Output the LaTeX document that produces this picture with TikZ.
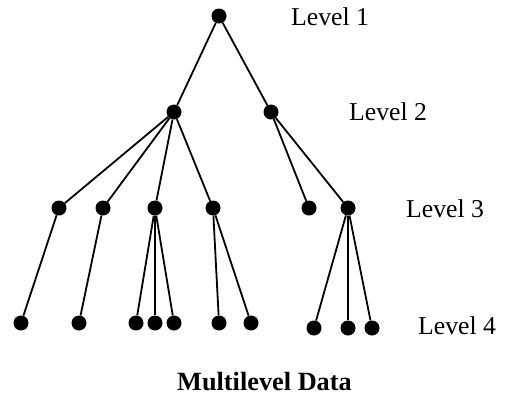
\documentclass[tikz,border=0pt]{standalone}
\usepackage{fontspec}
\setmainfont{Liberation Serif}
\begin{document}
\begin{tikzpicture}[x=1pt,y=-1pt,
  dot/.style={circle,fill=black,inner sep=0pt,minimum size=15pt},
  edge/.style={line width=1.8pt},
  lvl/.style={anchor=base west,inner sep=0pt,font=\fontsize{25.7}{30}\selectfont},
  ttl/.style={anchor=base,inner sep=0pt,font=\fontsize{26.3}{31}\selectfont\bfseries}]
\useasboundingbox (0,0) rectangle (511,394);
% nodes
\node[dot] (r) at (219,16) {};
\node[dot] (a) at (174,112) {};
\node[dot] (b) at (271,112) {};
\node[dot] (c1) at (59,208) {};
\node[dot] (c2) at (103,208) {};
\node[dot] (c3) at (155,208) {};
\node[dot] (c4) at (213,208) {};
\node[dot] (c5) at (309,208) {};
\node[dot] (c6) at (348,208) {};
\node[dot] (d1) at (21,323) {};
\node[dot] (d2) at (79,323) {};
\node[dot] (d3) at (136,323) {};
\node[dot] (d4) at (155,323) {};
\node[dot] (d5) at (174,323) {};
\node[dot] (d6) at (219,323) {};
\node[dot] (d7) at (251,323) {};
\node[dot] (d8) at (314,328) {};
\node[dot] (d9) at (348,328) {};
\node[dot] (d10) at (372,328) {};
% edges
\draw[edge] (r) -- (a);
\draw[edge] (r) -- (b);
\draw[edge] (a) -- (c1);
\draw[edge] (a) -- (c2);
\draw[edge] (a) -- (c3);
\draw[edge] (a) -- (c4);
\draw[edge] (b) -- (c5);
\draw[edge] (b) -- (c6);
\draw[edge] (c1) -- (d1);
\draw[edge] (c2) -- (d2);
\draw[edge] (c3) -- (d3);
\draw[edge] (c3) -- (d4);
\draw[edge] (c3) -- (d5);
\draw[edge] (c4) -- (d6);
\draw[edge] (c4) -- (d7);
\draw[edge] (c6) -- (d8);
\draw[edge] (c6) -- (d9);
\draw[edge] (c6) -- (d10);
% labels
\node[lvl] (l1) at (291,25) {Level 1};
\node[lvl] (l2) at (349,120.5) {Level 2};
\node[lvl] (l3) at (406,217) {Level 3};
\node[lvl] (l4) at (418,334) {Level 4};
\node[ttl] (t) at (264.5,390) {Multilevel Data};
\end{tikzpicture}
\end{document}
